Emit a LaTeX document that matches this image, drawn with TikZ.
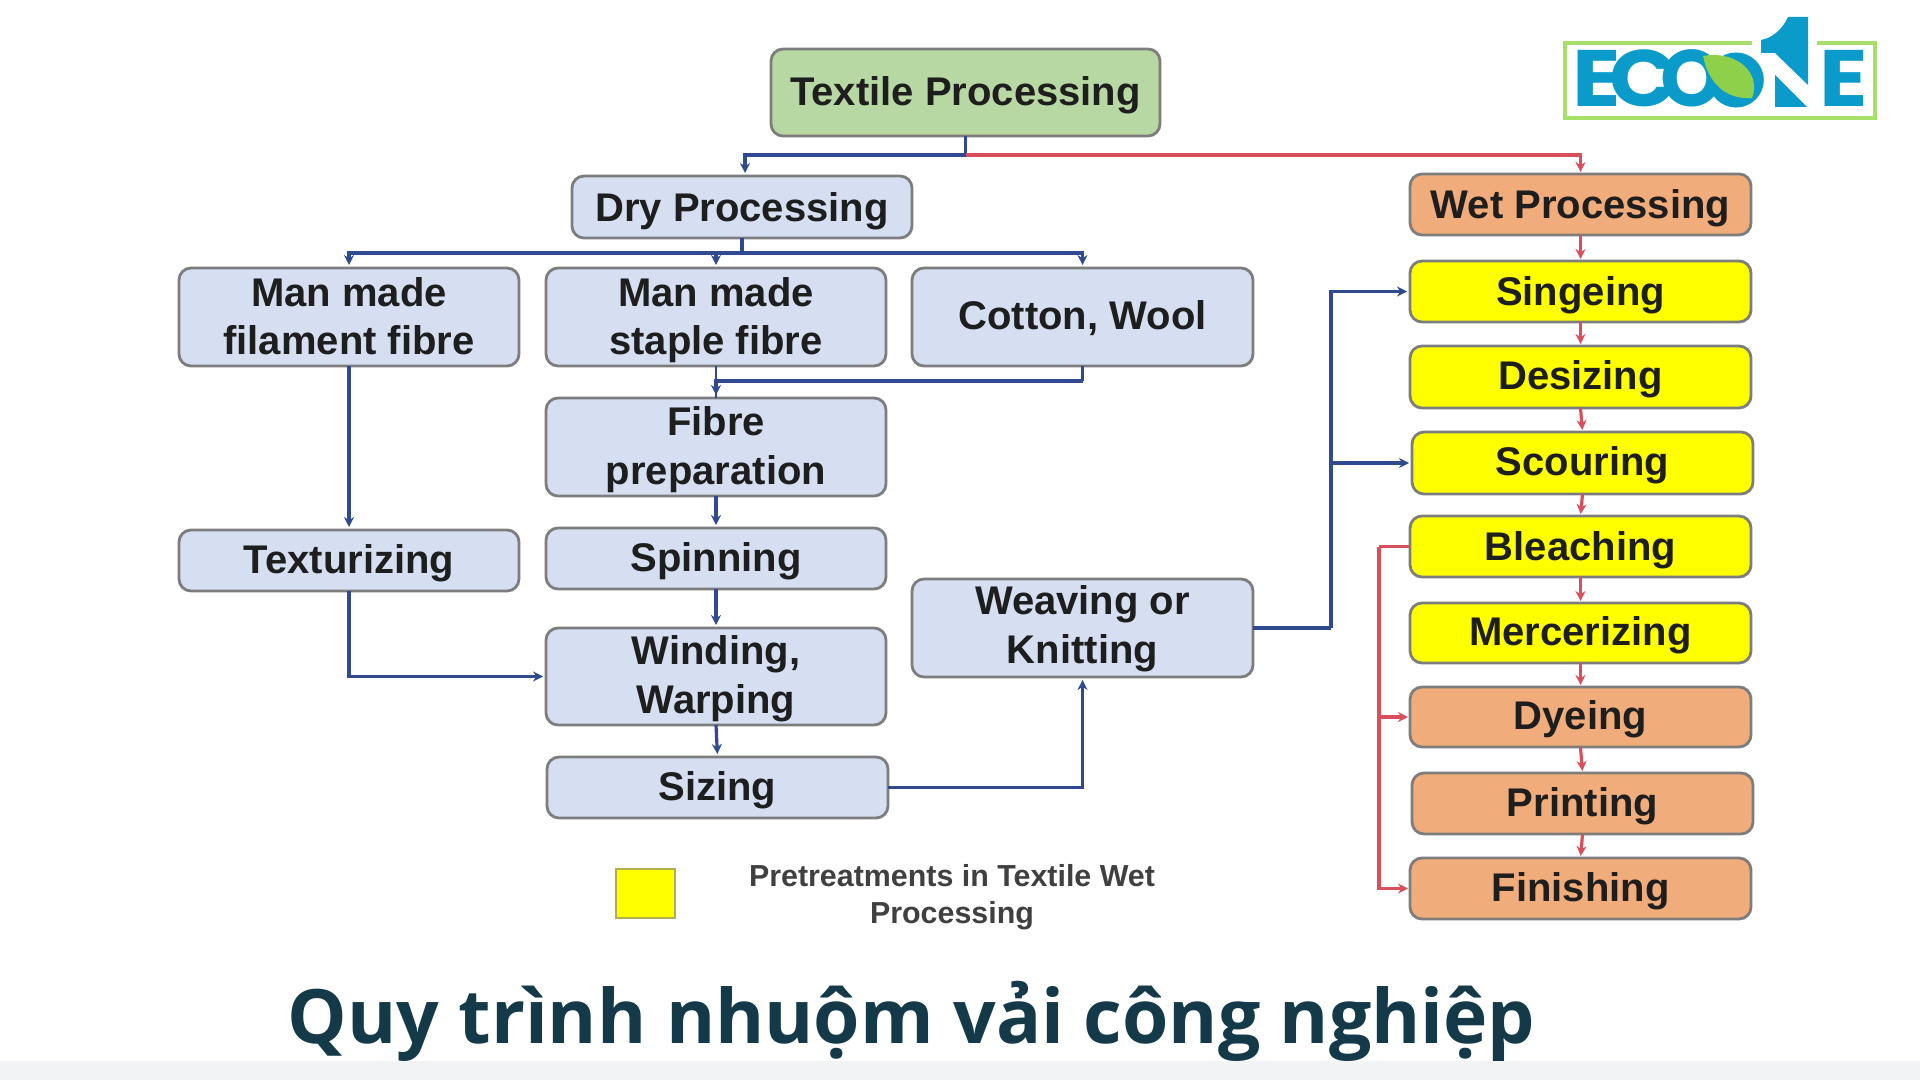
\documentclass[tikz,border=0pt]{standalone}
\usepackage{fontspec}
\setmainfont{Liberation Sans}
\newfontfamily\titlefont{Open Sans}
\newfontfamily\logofont{Poppins}
\usetikzlibrary{calc,arrows.meta}
\definecolor{boxline}{HTML}{7D7D7D}
\definecolor{dryfill}{HTML}{D6DFF1}
\definecolor{topfill}{HTML}{B7D7A3}
\definecolor{wetfill}{HTML}{F0AC7A}
\definecolor{preyellow}{HTML}{FFFF00}
\definecolor{flowblue}{HTML}{2F4A8E}
\definecolor{flowred}{HTML}{D9505C}
\definecolor{labeltext}{HTML}{1E1E1E}
\definecolor{titleink}{HTML}{143A49}
\definecolor{bandgrey}{HTML}{F1F3F5}
\definecolor{logoblue}{HTML}{0A9BCB}
\definecolor{logogreen}{HTML}{A6E06A}
\definecolor{leafgreen}{HTML}{8ED04A}
\tikzset{
  box/.style={draw=boxline,line width=1.4pt,rounded corners=6pt,outer sep=0pt,inner sep=0pt,align=center,
    text=labeltext,font=\fontsize{20}{24.5}\selectfont\bfseries},
  drybox/.style={box,fill=dryfill},
  topbox/.style={box,fill=topfill},
  wetbox/.style={box,fill=wetfill},
  prebox/.style={box,fill=preyellow},
  blueflow/.style={draw=flowblue,line width=1.6pt},
  redflow/.style={draw=flowred,line width=1.6pt},
  bluetip/.style={blueflow,-{Stealth[length=5pt,width=5pt]},shorten >=1.5pt},
  redtip/.style={redflow,-{Stealth[length=5pt,width=5pt]},shorten >=1pt},
  logoletter/.style={text=logoblue,inner sep=0pt,font=\fontsize{40}{40}\selectfont\logofont\bfseries}
}
\newcommand{\bx}[6]{\node[#1,minimum width={(#4-#2)*0.5pt},minimum height={(#5-#3)*0.5pt}] (#6) at ({(#2+#4)/2},{(#3+#5)/2})}
\newcommand{\one}[2][0pt]{\rule[-1.8pt]{0pt}{16.1pt}\smash{\raisebox{#1}{#2}}}
\newcommand{\two}[3][0pt]{\rule{0pt}{14.3pt}\smash{\raisebox{#1}{#2}}\\\rule[-.8pt]{0pt}{.8pt}\smash{\raisebox{#1}{#3}}}
\newcommand{\wideglyph}[1]{\scalebox{1.12}[1]{#1}}
\begin{document}
\begin{tikzpicture}[x=0.5pt,y=-0.5pt]
\useasboundingbox (0,0) rectangle (1920,1080);
\fill[white] (0,0) rectangle (1920,1080);
% boxes
\bx{topbox}{771}{49}{1160}{136}{textile} {\one[-.5pt]{Textile Processing}};
\bx{drybox}{572}{176}{912}{238}{dry} {\one[-1pt]{Dry Processing}};
\bx{wetbox}{1410}{174}{1751}{235}{wet} {\one[-1pt]{Wet Processing}};
\bx{prebox}{1410}{261}{1751}{322}{singe} {\one[-1pt]{Singeing}};
\bx{prebox}{1410}{346}{1751}{408}{desize} {\one{Desizing}};
\bx{prebox}{1412}{432}{1753}{494}{scour} {\one{Scouring}};
\bx{prebox}{1410}{516}{1751}{577}{bleach} {\one[-.5pt]{Bleaching}};
\bx{prebox}{1410}{603}{1751}{663}{merc} {\one{Mercerizing}};
\bx{wetbox}{1410}{687}{1751}{747}{dye} {\one{Dyeing}};
\bx{wetbox}{1412}{773}{1753}{834}{print} {\one{Printing}};
\bx{wetbox}{1410}{858}{1751}{919}{finish} {\one{Finishing}};
\bx{drybox}{179}{268}{519}{366}{fil} {\two{Man made}{filament fibre}};
\bx{drybox}{546}{268}{886}{366}{sta} {\two{Man made}{staple fibre}};
\bx{drybox}{912}{268}{1253}{366}{cot} {\one{Cotton, Wool}};
\bx{drybox}{546}{398}{886}{496}{fib} {\two[.5pt]{Fibre}{preparation}};
\bx{drybox}{546}{528}{886}{589}{spin} {\one{Spinning}};
\bx{drybox}{546}{628}{886}{725}{wind} {\two[.3pt]{Winding,}{Warping}};
\bx{drybox}{547}{757}{888}{818}{size} {\one{Sizing}};
\bx{drybox}{179}{530}{519}{591}{tex} {\one{Texturizing}};
\bx{drybox}{912}{579}{1253}{677}{weave} {\two[1.2pt]{Weaving or}{Knitting}};
% blue connectors
\coordinate (tj) at ($(textile.south)+(0,19)$);
\draw[blueflow] (textile.south) -- (tj);
\draw[redtip] (tj) -| (wet.north);
\draw[bluetip] (tj) -| ([xshift=1.5pt]dry.north);
\coordinate (dj) at ($(dry.south)+(0,15)$);
\draw[blueflow] (dry.south) -- (dj);
\draw[bluetip] (dj) -| (fil.north);
\draw[bluetip] (dj) -| (sta.north);
\draw[bluetip] (dj) -| (cot.north);
\coordinate (cj) at ($(cot.south)+(0,15)$);
\draw[blueflow] (cot.south) -- (cj);
\draw[bluetip] (cj) -| (fib.north);
\draw[blueflow,line width=.9pt] (sta.south) -- (fib.north);
\draw[bluetip] (fil.south) -- (tex.north);
\draw[bluetip] (fib.south) -- (spin.north);
\draw[bluetip] (spin.south) -- (wind.north);
\draw[bluetip] (wind.south) -- (size.north);
\draw[bluetip] (tex.south) |- (wind.west);
\draw[bluetip] (size.east) -| (weave.south);
\coordinate (wj) at ($(weave.east)+(78,0)$);
\draw[blueflow] (weave.east) -- (wj);
\draw[bluetip] (wj) |- (singe.west);
\draw[bluetip] (wj) |- (scour.west);
% red connectors
\draw[redtip] (wet.south) -- (singe.north);
\draw[redtip] (singe.south) -- (desize.north);
\draw[redtip] (desize.south) -- (scour.north);
\draw[redtip] (scour.south) -- (bleach.north);
\draw[redtip] (bleach.south) -- (merc.north);
\draw[redtip] (merc.south) -- (dye.north);
\draw[redtip] (dye.south) -- (print.north);
\draw[redtip] (print.south) -- (finish.north);
\coordinate (bj) at ($(bleach.west)+(-31,0)$);
\draw[redflow] (bleach.west) -- (bj);
\draw[redtip] (bj) |- (dye.west);
\draw[redtip] (bj) |- (finish.west);
% legend
\node[draw=boxline!60!preyellow,line width=.8pt,fill=preyellow,minimum width=29.5pt,minimum height=24.5pt,outer sep=0pt] (swatch) at (645.5,893.5) {};
\node[text=labeltext!85,align=center,inner sep=0pt,font=\fontsize{15.2}{18.5}\selectfont\bfseries] (legend) at (952,897) {Pretreatments in Textile Wet\\Processing};
% title
\node[anchor=base west,inner sep=0pt,text=titleink,font=\fontsize{37.5}{37.5}\selectfont\titlefont\bfseries] (title) at (287,1043) {Quy trình nhuộm vải công nghiệp};
\fill[bandgrey] (0,1061) rectangle (1920,1080);
% logo
\draw[logogreen,line width=1.6pt] (1752,43) -- (1565,43) -- (1565,118) -- (1875,118) -- (1875,43) -- (1817,43);
\node[logoletter,anchor=base] (l1) at (1597,107) {\wideglyph{E}};
\node[logoletter,anchor=base] (l2) at (1644,107) {\wideglyph{C}};
\node[logoletter,anchor=base] (l3) at (1692,107) {O};
\node[logoletter,anchor=base] (l4) at (1844,107) {\wideglyph{E}};
\fill[leafgreen] (1737,80) circle (27);
\draw[logoblue,line width=6.5pt] (1736,80) circle (21);
\fill[leafgreen] (1703,56) .. controls (1735,50) and (1762,72) .. (1752,98) .. controls (1725,100) and (1708,82) .. (1703,56) -- cycle;
\fill[logoblue] (1808,17) -- (1788,17) .. controls (1782,30) and (1772,38) .. (1761,40) -- (1761,53) -- (1775,53) -- (1808,85) -- cycle;
\fill[logoblue] (1775,75) -- (1775,107) -- (1807,107) -- cycle;
\end{tikzpicture}
\end{document}
